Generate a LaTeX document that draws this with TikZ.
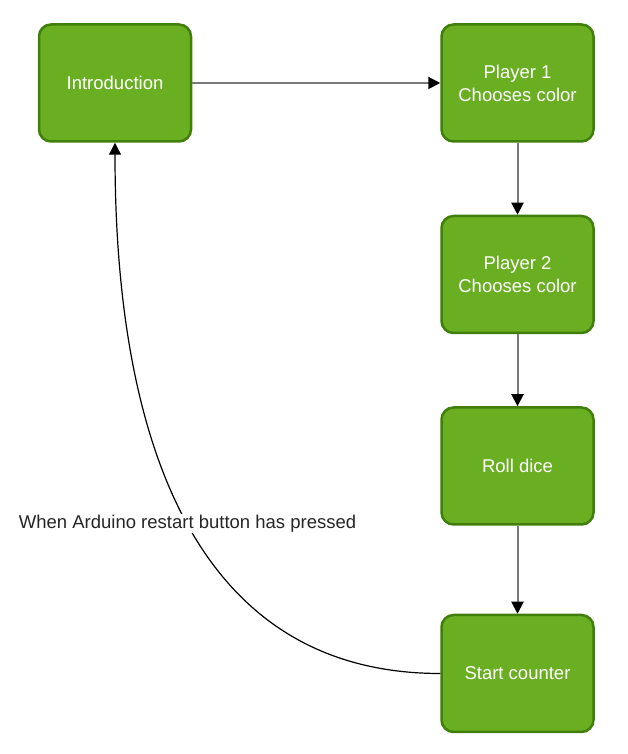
\documentclass[tikz,border=0pt]{standalone}
\usepackage{fontspec}
\setmainfont{Liberation Sans}
\usetikzlibrary{arrows.meta}
\usetikzlibrary{positioning}
\definecolor{stagefill}{HTML}{6AAE22}
\definecolor{stageline}{HTML}{3F7F0A}
\definecolor{flowgrey}{HTML}{7A7A7A}
\tikzset{stage/.style={rectangle,rounded corners=12pt,draw=stageline,line width=2.5pt,fill=stagefill,
  minimum width=152pt,minimum height=117pt,text=white,align=center,font=\fontsize{18.5pt}{23pt}\selectfont}}
\tikzset{flow/.style={draw=flowgrey,line width=2pt,-{Triangle[length=12pt,width=12pt,color=black]}}}
\tikzset{back/.style={draw=black,line width=1.2pt,-{Triangle[length=12pt,width=12pt]}}}
\tikzset{note/.style={fill=white,text=black!85,inner sep=1pt,font=\fontsize{18.5pt}{22pt}\selectfont}}

\begin{document}
\begin{tikzpicture}[x=1pt,y=1pt]
  \useasboundingbox (0,0) rectangle (628,754);
  \node[stage] (intro) at (115,671) {Introduction};
  \node[stage] (pone) at (517.5,671) {Player 1\\Chooses color};
  \node[stage] (ptwo) at (517.5,479.5) {Player 2\\Chooses color};
  \node[stage] (roll) at (517.5,288) {Roll dice};
  \node[stage] (start) at (517.5,80.5) {Start counter};

  \draw[flow] (intro) -- (pone);
  \draw[flow] (pone) -- (ptwo);
  \draw[flow] (ptwo) -- (roll);
  \draw[flow] (roll) -- (start);
  \draw[back] (start.west) .. controls (200,80.5) and (115,304) .. (intro.south)
    node[note,pos=0.5] (restart) {When Arduino restart button has pressed};
\end{tikzpicture}
\end{document}
